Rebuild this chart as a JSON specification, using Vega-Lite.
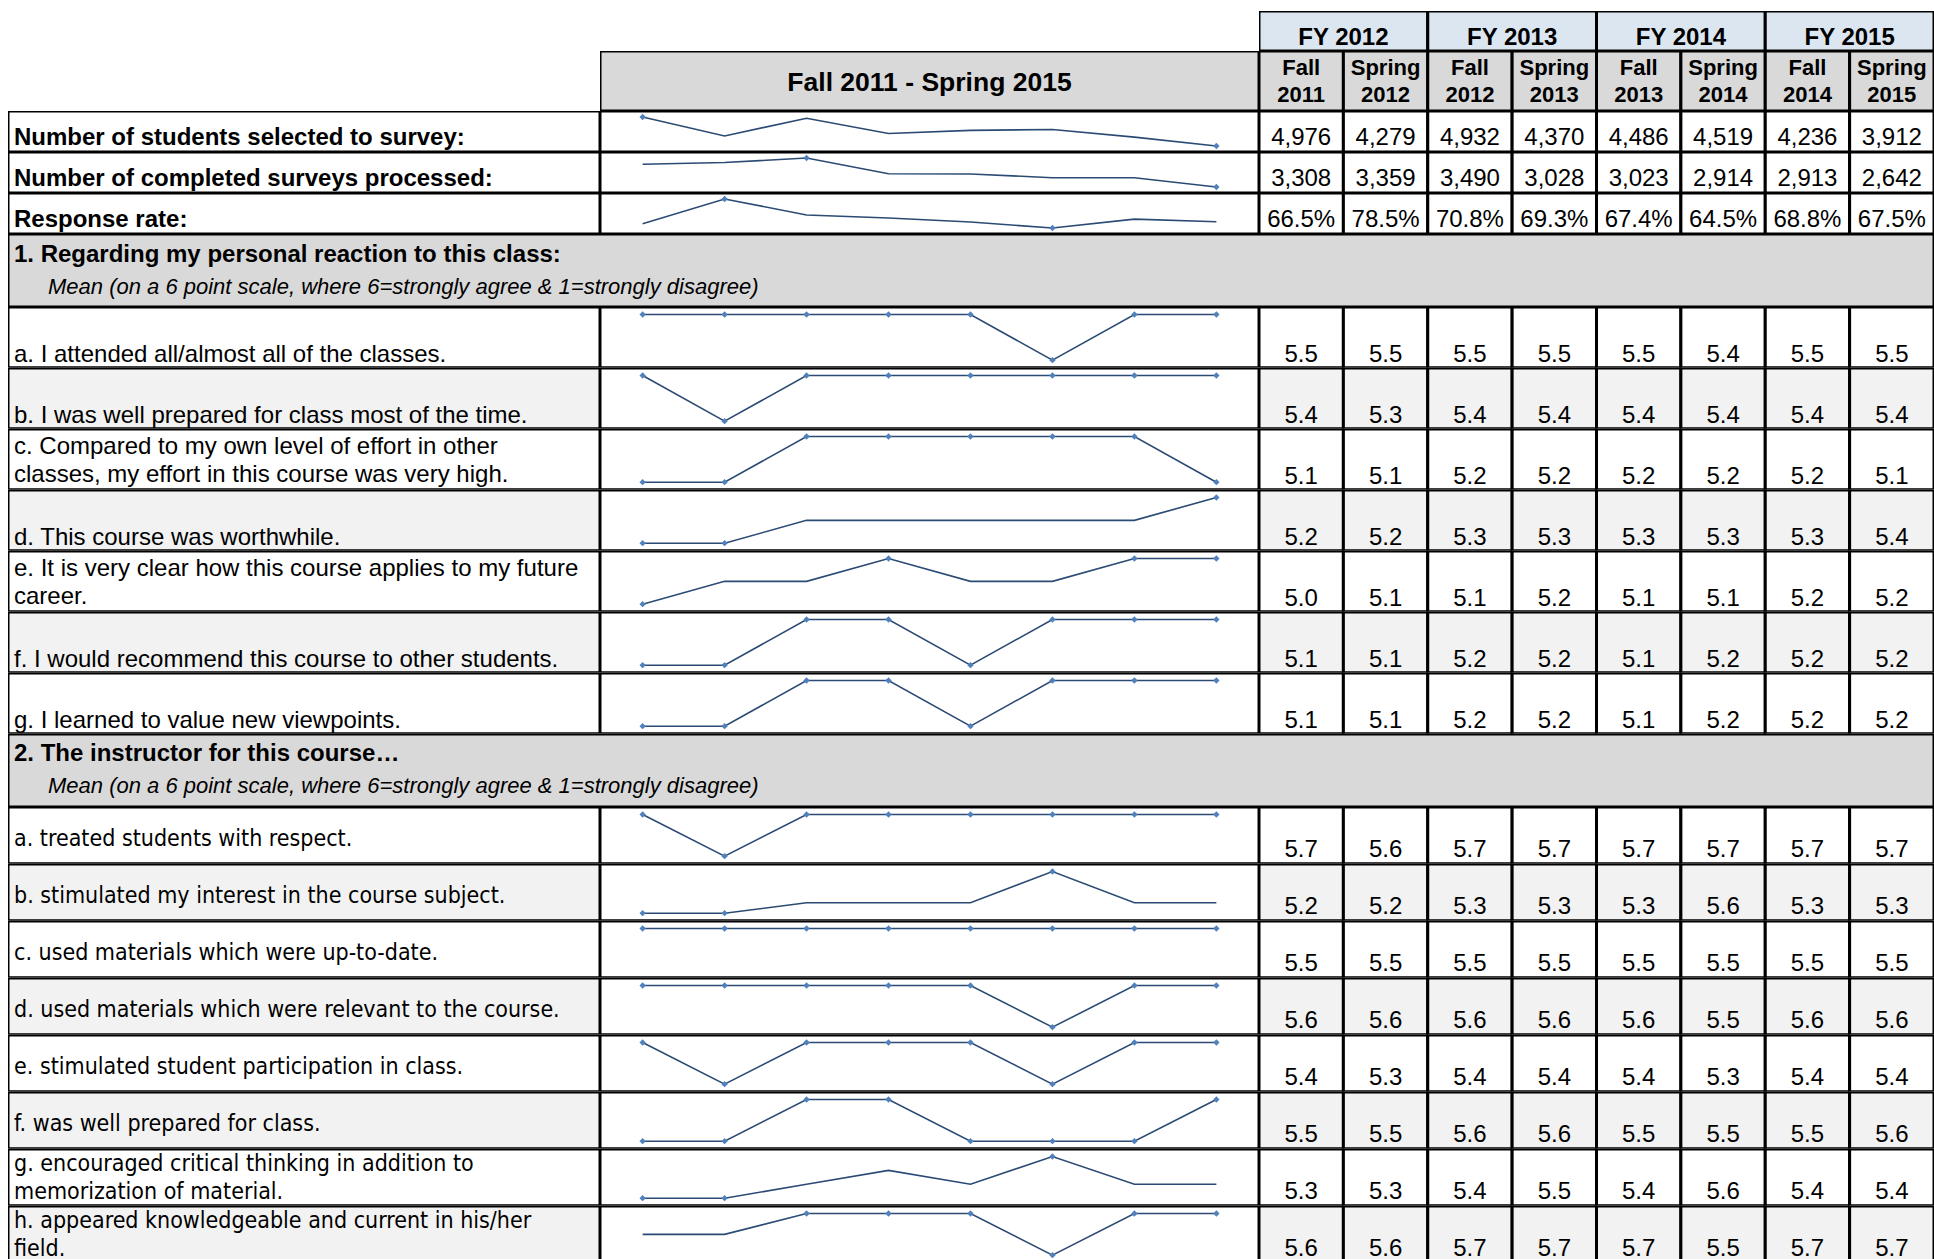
{
  "$schema": "https://vega.github.io/schema/vega-lite/v6.json",
  "background": "white",
  "padding": {"left": 8, "top": 11, "right": 0, "bottom": 0},
  "spacing": 0,
  "config": {
    "view": {"stroke": null},
    "concat": {"spacing": 0},
    "facet": {"spacing": 0},
    "font": "Liberation Sans, Arial, Helvetica, sans-serif",
    "text": {"font": "Liberation Sans, Arial, Helvetica, sans-serif", "fontSize": 24, "color": "black", "baseline": "alphabetic"}
  },
  "datasets": {
    "per": [
      {"fy": "FY 2012", "p": "Fall 2011"}, {"fy": "FY 2012", "p": "Spring 2012"},
      {"fy": "FY 2013", "p": "Fall 2012"}, {"fy": "FY 2013", "p": "Spring 2013"},
      {"fy": "FY 2014", "p": "Fall 2013"}, {"fy": "FY 2014", "p": "Spring 2014"},
      {"fy": "FY 2015", "p": "Fall 2014"}, {"fy": "FY 2015", "p": "Spring 2015"}
    ],
    "statLab": [
      {"k": 1, "label": "Number of students selected to survey:"},
      {"k": 2, "label": "Number of completed surveys processed:"},
      {"k": 3, "label": "Response rate:"}
    ],
    "stat": [
      {"k": 1, "p": "Fall 2011", "v": 4976}, {"k": 1, "p": "Spring 2012", "v": 4279}, {"k": 1, "p": "Fall 2012", "v": 4932}, {"k": 1, "p": "Spring 2013", "v": 4370},
      {"k": 1, "p": "Fall 2013", "v": 4486}, {"k": 1, "p": "Spring 2014", "v": 4519}, {"k": 1, "p": "Fall 2014", "v": 4236}, {"k": 1, "p": "Spring 2015", "v": 3912},
      {"k": 2, "p": "Fall 2011", "v": 3308}, {"k": 2, "p": "Spring 2012", "v": 3359}, {"k": 2, "p": "Fall 2012", "v": 3490}, {"k": 2, "p": "Spring 2013", "v": 3028},
      {"k": 2, "p": "Fall 2013", "v": 3023}, {"k": 2, "p": "Spring 2014", "v": 2914}, {"k": 2, "p": "Fall 2014", "v": 2913}, {"k": 2, "p": "Spring 2015", "v": 2642},
      {"k": 3, "p": "Fall 2011", "v": 0.665}, {"k": 3, "p": "Spring 2012", "v": 0.785}, {"k": 3, "p": "Fall 2012", "v": 0.708}, {"k": 3, "p": "Spring 2013", "v": 0.693},
      {"k": 3, "p": "Fall 2013", "v": 0.674}, {"k": 3, "p": "Spring 2014", "v": 0.645}, {"k": 3, "p": "Fall 2014", "v": 0.688}, {"k": 3, "p": "Spring 2015", "v": 0.675}
    ],
    "s1Lab": [
      {"k": 1, "label": "a. I attended all/almost all of the classes."},
      {"k": 2, "label": "b. I was well prepared for class most of the time."},
      {"k": 3, "label": "c. Compared to my own level of effort in other\nclasses, my effort in this course was very high."},
      {"k": 4, "label": "d. This course was worthwhile."},
      {"k": 5, "label": "e. It is very clear how this course applies to my future\ncareer."},
      {"k": 6, "label": "f.  I would recommend this course to other students."},
      {"k": 7, "label": "g. I learned to value new viewpoints."}
    ],
    "s1": [
      {"k": 1, "p": "Fall 2011", "v": 5.5}, {"k": 1, "p": "Spring 2012", "v": 5.5}, {"k": 1, "p": "Fall 2012", "v": 5.5}, {"k": 1, "p": "Spring 2013", "v": 5.5},
      {"k": 1, "p": "Fall 2013", "v": 5.5}, {"k": 1, "p": "Spring 2014", "v": 5.4}, {"k": 1, "p": "Fall 2014", "v": 5.5}, {"k": 1, "p": "Spring 2015", "v": 5.5},
      {"k": 2, "p": "Fall 2011", "v": 5.4}, {"k": 2, "p": "Spring 2012", "v": 5.3}, {"k": 2, "p": "Fall 2012", "v": 5.4}, {"k": 2, "p": "Spring 2013", "v": 5.4},
      {"k": 2, "p": "Fall 2013", "v": 5.4}, {"k": 2, "p": "Spring 2014", "v": 5.4}, {"k": 2, "p": "Fall 2014", "v": 5.4}, {"k": 2, "p": "Spring 2015", "v": 5.4},
      {"k": 3, "p": "Fall 2011", "v": 5.1}, {"k": 3, "p": "Spring 2012", "v": 5.1}, {"k": 3, "p": "Fall 2012", "v": 5.2}, {"k": 3, "p": "Spring 2013", "v": 5.2},
      {"k": 3, "p": "Fall 2013", "v": 5.2}, {"k": 3, "p": "Spring 2014", "v": 5.2}, {"k": 3, "p": "Fall 2014", "v": 5.2}, {"k": 3, "p": "Spring 2015", "v": 5.1},
      {"k": 4, "p": "Fall 2011", "v": 5.2}, {"k": 4, "p": "Spring 2012", "v": 5.2}, {"k": 4, "p": "Fall 2012", "v": 5.3}, {"k": 4, "p": "Spring 2013", "v": 5.3},
      {"k": 4, "p": "Fall 2013", "v": 5.3}, {"k": 4, "p": "Spring 2014", "v": 5.3}, {"k": 4, "p": "Fall 2014", "v": 5.3}, {"k": 4, "p": "Spring 2015", "v": 5.4},
      {"k": 5, "p": "Fall 2011", "v": 5.0}, {"k": 5, "p": "Spring 2012", "v": 5.1}, {"k": 5, "p": "Fall 2012", "v": 5.1}, {"k": 5, "p": "Spring 2013", "v": 5.2},
      {"k": 5, "p": "Fall 2013", "v": 5.1}, {"k": 5, "p": "Spring 2014", "v": 5.1}, {"k": 5, "p": "Fall 2014", "v": 5.2}, {"k": 5, "p": "Spring 2015", "v": 5.2},
      {"k": 6, "p": "Fall 2011", "v": 5.1}, {"k": 6, "p": "Spring 2012", "v": 5.1}, {"k": 6, "p": "Fall 2012", "v": 5.2}, {"k": 6, "p": "Spring 2013", "v": 5.2},
      {"k": 6, "p": "Fall 2013", "v": 5.1}, {"k": 6, "p": "Spring 2014", "v": 5.2}, {"k": 6, "p": "Fall 2014", "v": 5.2}, {"k": 6, "p": "Spring 2015", "v": 5.2},
      {"k": 7, "p": "Fall 2011", "v": 5.1}, {"k": 7, "p": "Spring 2012", "v": 5.1}, {"k": 7, "p": "Fall 2012", "v": 5.2}, {"k": 7, "p": "Spring 2013", "v": 5.2},
      {"k": 7, "p": "Fall 2013", "v": 5.1}, {"k": 7, "p": "Spring 2014", "v": 5.2}, {"k": 7, "p": "Fall 2014", "v": 5.2}, {"k": 7, "p": "Spring 2015", "v": 5.2}
    ],
    "s2Lab": [
      {"k": 1, "label": "a. treated students with respect."},
      {"k": 2, "label": "b. stimulated my interest in the course subject."},
      {"k": 3, "label": "c. used materials which were up-to-date."},
      {"k": 4, "label": "d. used materials which were relevant to the course."},
      {"k": 5, "label": "e. stimulated student participation in class."},
      {"k": 6, "label": "f. was well prepared for class."},
      {"k": 7, "label": "g. encouraged critical thinking in addition to\nmemorization of material."},
      {"k": 8, "label": "h. appeared knowledgeable and current in his/her\nfield."}
    ],
    "s2": [
      {"k": 1, "p": "Fall 2011", "v": 5.7}, {"k": 1, "p": "Spring 2012", "v": 5.6}, {"k": 1, "p": "Fall 2012", "v": 5.7}, {"k": 1, "p": "Spring 2013", "v": 5.7},
      {"k": 1, "p": "Fall 2013", "v": 5.7}, {"k": 1, "p": "Spring 2014", "v": 5.7}, {"k": 1, "p": "Fall 2014", "v": 5.7}, {"k": 1, "p": "Spring 2015", "v": 5.7},
      {"k": 2, "p": "Fall 2011", "v": 5.2}, {"k": 2, "p": "Spring 2012", "v": 5.2}, {"k": 2, "p": "Fall 2012", "v": 5.3}, {"k": 2, "p": "Spring 2013", "v": 5.3},
      {"k": 2, "p": "Fall 2013", "v": 5.3}, {"k": 2, "p": "Spring 2014", "v": 5.6}, {"k": 2, "p": "Fall 2014", "v": 5.3}, {"k": 2, "p": "Spring 2015", "v": 5.3},
      {"k": 3, "p": "Fall 2011", "v": 5.5}, {"k": 3, "p": "Spring 2012", "v": 5.5}, {"k": 3, "p": "Fall 2012", "v": 5.5}, {"k": 3, "p": "Spring 2013", "v": 5.5},
      {"k": 3, "p": "Fall 2013", "v": 5.5}, {"k": 3, "p": "Spring 2014", "v": 5.5}, {"k": 3, "p": "Fall 2014", "v": 5.5}, {"k": 3, "p": "Spring 2015", "v": 5.5},
      {"k": 4, "p": "Fall 2011", "v": 5.6}, {"k": 4, "p": "Spring 2012", "v": 5.6}, {"k": 4, "p": "Fall 2012", "v": 5.6}, {"k": 4, "p": "Spring 2013", "v": 5.6},
      {"k": 4, "p": "Fall 2013", "v": 5.6}, {"k": 4, "p": "Spring 2014", "v": 5.5}, {"k": 4, "p": "Fall 2014", "v": 5.6}, {"k": 4, "p": "Spring 2015", "v": 5.6},
      {"k": 5, "p": "Fall 2011", "v": 5.4}, {"k": 5, "p": "Spring 2012", "v": 5.3}, {"k": 5, "p": "Fall 2012", "v": 5.4}, {"k": 5, "p": "Spring 2013", "v": 5.4},
      {"k": 5, "p": "Fall 2013", "v": 5.4}, {"k": 5, "p": "Spring 2014", "v": 5.3}, {"k": 5, "p": "Fall 2014", "v": 5.4}, {"k": 5, "p": "Spring 2015", "v": 5.4},
      {"k": 6, "p": "Fall 2011", "v": 5.5}, {"k": 6, "p": "Spring 2012", "v": 5.5}, {"k": 6, "p": "Fall 2012", "v": 5.6}, {"k": 6, "p": "Spring 2013", "v": 5.6},
      {"k": 6, "p": "Fall 2013", "v": 5.5}, {"k": 6, "p": "Spring 2014", "v": 5.5}, {"k": 6, "p": "Fall 2014", "v": 5.5}, {"k": 6, "p": "Spring 2015", "v": 5.6},
      {"k": 7, "p": "Fall 2011", "v": 5.3}, {"k": 7, "p": "Spring 2012", "v": 5.3}, {"k": 7, "p": "Fall 2012", "v": 5.4}, {"k": 7, "p": "Spring 2013", "v": 5.5},
      {"k": 7, "p": "Fall 2013", "v": 5.4}, {"k": 7, "p": "Spring 2014", "v": 5.6}, {"k": 7, "p": "Fall 2014", "v": 5.4}, {"k": 7, "p": "Spring 2015", "v": 5.4},
      {"k": 8, "p": "Fall 2011", "v": 5.6}, {"k": 8, "p": "Spring 2012", "v": 5.6}, {"k": 8, "p": "Fall 2012", "v": 5.7}, {"k": 8, "p": "Spring 2013", "v": 5.7},
      {"k": 8, "p": "Fall 2013", "v": 5.7}, {"k": 8, "p": "Spring 2014", "v": 5.5}, {"k": 8, "p": "Fall 2014", "v": 5.7}, {"k": 8, "p": "Spring 2015", "v": 5.7}
    ]
  },
  "vconcat": [
    {
      "hconcat": [
        {"width": 592, "height": 100, "data": {"values": [{"t": ""}]}, "mark": {"type": "text", "clip": true}, "encoding": {"text": {"field": "t"}}},
        {
          "vconcat": [
            {"width": 659, "height": 40, "data": {"values": [{"t": ""}]}, "mark": {"type": "text", "clip": true}, "encoding": {"text": {"field": "t"}}},
            {
              "width": 659, "height": 60,
              "data": {"values": [{"t": "Fall 2011 - Spring 2015"}]},
              "layer": [
                {"mark": {"type": "rect", "clip": true, "fill": "#D9D9D9", "stroke": "black", "strokeWidth": 3}, "encoding": {}},
                {"mark": {"type": "text", "clip": true, "baseline": "alphabetic", "fontWeight": "bold", "fontSize": 26.5, "dy": 10}, "encoding": {"text": {"field": "t"}}}
              ]
            }
          ]
        },
        {
          "vconcat": [
            {
              "width": 675, "height": 40,
              "data": {"name": "per"},
              "transform": [{"aggregate": [{"op": "count", "as": "n"}], "groupby": ["fy"]}],
              "encoding": {"x": {"field": "fy", "type": "nominal", "sort": ["FY 2012", "FY 2013", "FY 2014", "FY 2015"], "scale": {"type": "band", "paddingInner": 0, "paddingOuter": 0}, "axis": null}},
              "layer": [
                {"mark": {"type": "rect", "clip": true, "fill": "#DCE6F1", "stroke": "black", "strokeWidth": 3}},
                {"mark": {"type": "text", "clip": true, "baseline": "alphabetic", "fontWeight": "bold", "dy": 13.5}, "encoding": {"text": {"field": "fy"}}}
              ]
            },
            {
              "width": 675, "height": 60,
              "data": {"name": "per"},
              "encoding": {"x": {"field": "p", "type": "nominal", "sort": ["Fall 2011", "Spring 2012", "Fall 2012", "Spring 2013", "Fall 2013", "Spring 2014", "Fall 2014", "Spring 2015"], "scale": {"type": "band", "paddingInner": 0, "paddingOuter": 0}, "axis": null}},
              "layer": [
                {"mark": {"type": "rect", "clip": true, "fill": "#D9D9D9", "stroke": "black", "strokeWidth": 3}},
                {"mark": {"type": "text", "clip": true, "baseline": "alphabetic", "fontWeight": "bold", "fontSize": 22, "lineBreak": " ", "lineHeight": 27, "dy": -6}, "encoding": {"text": {"field": "p"}}}
              ]
            }
          ]
        }
      ]
    },
    {
      "hconcat": [
        {
          "data": {"name": "statLab"},
          "facet": {"row": {"field": "k", "type": "ordinal", "header": null}},
          "spacing": 0,
          "spec": {
            "width": 592, "height": 41,
            "layer": [
              {"mark": {"type": "rect", "clip": true, "fill": "white", "stroke": "black", "strokeWidth": 3}, "encoding": {}},
              {"mark": {"type": "text", "clip": true, "baseline": "alphabetic", "align": "left", "fontWeight": "bold", "dx": 6, "dy": 13.5, "limit": 580},
               "encoding": {"x": {"datum": 0, "type": "quantitative", "scale": {"domain": [0, 1]}, "axis": null}, "text": {"field": "label"}}}
            ]
          }
        },
        {
          "data": {"name": "stat"},
          "transform": [{"joinaggregate": [{"op": "max", "field": "v", "as": "mx"}, {"op": "min", "field": "v", "as": "mn"}], "groupby": ["k"]}],
          "facet": {"row": {"field": "k", "type": "ordinal", "header": null}},
          "spacing": 0,
          "resolve": {"scale": {"y": "independent"}},
          "spec": {
            "width": 659, "height": 41,
            "encoding": {
              "x": {"field": "p", "type": "nominal", "sort": ["Fall 2011", "Spring 2012", "Fall 2012", "Spring 2013", "Fall 2013", "Spring 2014", "Fall 2014", "Spring 2015"], "scale": {"type": "point", "padding": 0.52}, "axis": null},
              "y": {"field": "v", "type": "quantitative", "scale": {"zero": false, "nice": false, "padding": 6}, "axis": null}
            },
            "layer": [
              {"transform": [{"filter": "datum.p == 'Fall 2011'"}], "mark": {"type": "rect", "clip": true, "fill": "white", "stroke": "black", "strokeWidth": 3}, "encoding": {"x": null, "y": null}},
              {"mark": {"type": "line", "clip": true, "color": "#2B4B74", "strokeWidth": 1.6}, "encoding": {}},
              {"transform": [{"filter": "datum.v == datum.mx || datum.v == datum.mn"}], "mark": {"type": "point", "clip": true, "shape": "diamond", "filled": true, "color": "#4F81BD", "size": 40, "opacity": 1}, "encoding": {}}
            ]
          }
        },
        {
          "data": {"name": "stat"},
          "facet": {"row": {"field": "k", "type": "ordinal", "header": null}},
          "spacing": 0,
          "spec": {
            "width": 675, "height": 41,
            "encoding": {"x": {"field": "p", "type": "nominal", "sort": ["Fall 2011", "Spring 2012", "Fall 2012", "Spring 2013", "Fall 2013", "Spring 2014", "Fall 2014", "Spring 2015"], "scale": {"type": "band", "paddingInner": 0, "paddingOuter": 0}, "axis": null}},
            "layer": [
              {"mark": {"type": "rect", "clip": true, "fill": "white", "stroke": "black", "strokeWidth": 3}},
              {"transform": [{"filter": "datum.k < 3"}], "mark": {"type": "text", "clip": true, "baseline": "alphabetic", "dy": 13.5}, "encoding": {"text": {"field": "v", "type": "quantitative", "format": ","}}},
              {"transform": [{"filter": "datum.k == 3"}], "mark": {"type": "text", "clip": true, "baseline": "alphabetic", "dy": 13.5}, "encoding": {"text": {"field": "v", "type": "quantitative", "format": ".1%"}}}
            ]
          }
        }
      ]
    },
    {
      "width": 1926, "height": 73,
      "data": {"values": [{"t": "1. Regarding my personal reaction to this class:", "s": "Mean (on a 6 point scale, where 6=strongly agree & 1=strongly disagree)"}]},
      "encoding": {"x": {"datum": 0, "type": "quantitative", "scale": {"domain": [0, 1]}, "axis": null}},
      "layer": [
        {"mark": {"type": "rect", "clip": true, "fill": "#D9D9D9", "stroke": "black", "strokeWidth": 3}, "encoding": {"x": null}},
        {"mark": {"type": "text", "clip": true, "baseline": "alphabetic", "align": "left", "fontWeight": "bold", "dx": 6, "dy": -8.5}, "encoding": {"text": {"field": "t"}}},
        {"mark": {"type": "text", "clip": true, "baseline": "alphabetic", "align": "left", "fontStyle": "italic", "fontSize": 22, "dx": 40, "dy": 23.5}, "encoding": {"text": {"field": "s"}}}
      ]
    },
    {
      "hconcat": [
        {
          "data": {"name": "s1Lab"},
          "facet": {"row": {"field": "k", "type": "ordinal", "header": null}},
          "spacing": 0,
          "spec": {
            "width": 592, "height": 60.7,
            "encoding": {"x": {"datum": 0, "type": "quantitative", "scale": {"domain": [0, 1]}, "axis": null}},
            "layer": [
              {"mark": {"type": "rect", "clip": true, "stroke": "black", "strokeWidth": 3},
               "encoding": {"x": null, "fill": {"condition": {"test": "datum.k % 2 == 0", "value": "#F2F2F2"}, "value": "white"}}},
              {"transform": [{"filter": "indexof(datum.label, '\\n') < 0"}],
               "mark": {"type": "text", "clip": true, "baseline": "alphabetic", "align": "left", "dx": 6, "dy": 25, "limit": 580},
               "encoding": {"text": {"field": "label"}}},
              {"transform": [{"filter": "indexof(datum.label, '\\n') >= 0"}],
               "mark": {"type": "text", "clip": true, "baseline": "alphabetic", "align": "left", "lineBreak": "\n", "lineHeight": 27.5, "dx": 6, "dy": -5, "limit": 580},
               "encoding": {"text": {"field": "label"}}}
            ]
          }
        },
        {
          "data": {"name": "s1"},
          "transform": [{"joinaggregate": [{"op": "max", "field": "v", "as": "mx"}, {"op": "min", "field": "v", "as": "mn"}], "groupby": ["k"]}],
          "facet": {"row": {"field": "k", "type": "ordinal", "header": null}},
          "spacing": 0,
          "resolve": {"scale": {"y": "independent"}},
          "spec": {
            "width": 659, "height": 60.7,
            "encoding": {
              "x": {"field": "p", "type": "nominal", "sort": ["Fall 2011", "Spring 2012", "Fall 2012", "Spring 2013", "Fall 2013", "Spring 2014", "Fall 2014", "Spring 2015"], "scale": {"type": "point", "padding": 0.52}, "axis": null},
              "y": {"field": "v", "type": "quantitative", "scale": {"zero": false, "nice": false, "padding": 7.5}, "axis": null}
            },
            "layer": [
              {"transform": [{"filter": "datum.p == 'Fall 2011'"}], "mark": {"type": "rect", "clip": true, "fill": "white", "stroke": "black", "strokeWidth": 3}, "encoding": {"x": null, "y": null}},
              {"mark": {"type": "line", "clip": true, "color": "#2B4B74", "strokeWidth": 1.6}, "encoding": {}},
              {"transform": [{"filter": "datum.v == datum.mx || datum.v == datum.mn"}], "mark": {"type": "point", "clip": true, "shape": "diamond", "filled": true, "color": "#4F81BD", "size": 40, "opacity": 1}, "encoding": {}}
            ]
          }
        },
        {
          "data": {"name": "s1"},
          "facet": {"row": {"field": "k", "type": "ordinal", "header": null}},
          "spacing": 0,
          "spec": {
            "width": 675, "height": 60.7,
            "encoding": {"x": {"field": "p", "type": "nominal", "sort": ["Fall 2011", "Spring 2012", "Fall 2012", "Spring 2013", "Fall 2013", "Spring 2014", "Fall 2014", "Spring 2015"], "scale": {"type": "band", "paddingInner": 0, "paddingOuter": 0}, "axis": null}},
            "layer": [
              {"mark": {"type": "rect", "clip": true, "stroke": "black", "strokeWidth": 3},
               "encoding": {"fill": {"condition": {"test": "datum.k % 2 == 0", "value": "#F2F2F2"}, "value": "white"}}},
              {"mark": {"type": "text", "clip": true, "baseline": "alphabetic", "dy": 24.3}, "encoding": {"text": {"field": "v", "type": "quantitative", "format": ".1f"}}}
            ]
          }
        }
      ]
    },
    {
      "width": 1926, "height": 73,
      "data": {"values": [{"t": "2. The instructor for this course…", "s": "Mean (on a 6 point scale, where 6=strongly agree & 1=strongly disagree)"}]},
      "encoding": {"x": {"datum": 0, "type": "quantitative", "scale": {"domain": [0, 1]}, "axis": null}},
      "layer": [
        {"mark": {"type": "rect", "clip": true, "fill": "#D9D9D9", "stroke": "black", "strokeWidth": 3}, "encoding": {"x": null}},
        {"mark": {"type": "text", "clip": true, "baseline": "alphabetic", "align": "left", "fontWeight": "bold", "dx": 6, "dy": -9.5}, "encoding": {"text": {"field": "t"}}},
        {"mark": {"type": "text", "clip": true, "baseline": "alphabetic", "align": "left", "fontStyle": "italic", "fontSize": 22, "dx": 40, "dy": 22.5}, "encoding": {"text": {"field": "s"}}}
      ]
    },
    {
      "hconcat": [
        {
          "data": {"name": "s2Lab"},
          "facet": {"row": {"field": "k", "type": "ordinal", "header": null}},
          "spacing": 0,
          "spec": {
            "width": 592, "height": 56.7,
            "encoding": {"x": {"datum": 0, "type": "quantitative", "scale": {"domain": [0, 1]}, "axis": null}},
            "layer": [
              {"mark": {"type": "rect", "clip": true, "stroke": "black", "strokeWidth": 3},
               "encoding": {"x": null, "fill": {"condition": {"test": "datum.k % 2 == 0", "value": "#F2F2F2"}, "value": "white"}}},
              {"transform": [{"filter": "indexof(datum.label, '\\n') < 0"}],
               "mark": {"type": "text", "clip": true, "baseline": "alphabetic", "align": "left", "font": "Liberation Sans Narrow, Arial Narrow, DejaVu Sans Condensed, sans-serif", "fontSize": 23, "dx": 6, "dy": 10.5, "limit": 580},
               "encoding": {"text": {"field": "label"}}},
              {"transform": [{"filter": "indexof(datum.label, '\\n') >= 0"}],
               "mark": {"type": "text", "clip": true, "baseline": "alphabetic", "align": "left", "font": "Liberation Sans Narrow, Arial Narrow, DejaVu Sans Condensed, sans-serif", "fontSize": 23, "lineBreak": "\n", "lineHeight": 28, "dx": 6, "dy": -6.5, "limit": 580},
               "encoding": {"text": {"field": "label"}}}
            ]
          }
        },
        {
          "data": {"name": "s2"},
          "transform": [{"joinaggregate": [{"op": "max", "field": "v", "as": "mx"}, {"op": "min", "field": "v", "as": "mn"}, {"op": "distinct", "field": "v", "as": "nd"}], "groupby": ["k"]}],
          "facet": {"row": {"field": "k", "type": "ordinal", "header": null}},
          "spacing": 0,
          "resolve": {"scale": {"y": "independent"}},
          "spec": {
            "width": 659, "height": 56.7,
            "encoding": {
              "x": {"field": "p", "type": "nominal", "sort": ["Fall 2011", "Spring 2012", "Fall 2012", "Spring 2013", "Fall 2013", "Spring 2014", "Fall 2014", "Spring 2015"], "scale": {"type": "point", "padding": 0.52}, "axis": null},
              "y": {"field": "v", "type": "quantitative", "scale": {"zero": false, "nice": false, "padding": 7.5}, "axis": null}
            },
            "layer": [
              {"transform": [{"filter": "datum.p == 'Fall 2011'"}], "mark": {"type": "rect", "clip": true, "fill": "white", "stroke": "black", "strokeWidth": 3}, "encoding": {"x": null, "y": null}},
              {"transform": [{"filter": "datum.nd == 1 && datum.p == 'Fall 2011'"}], "mark": {"type": "point", "clip": true, "opacity": 0}, "encoding": {"y": {"field": "nd", "type": "quantitative"}}},
              {"mark": {"type": "line", "clip": true, "color": "#2B4B74", "strokeWidth": 1.6}, "encoding": {}},
              {"transform": [{"filter": "datum.v == datum.mx || datum.v == datum.mn"}], "mark": {"type": "point", "clip": true, "shape": "diamond", "filled": true, "color": "#4F81BD", "size": 40, "opacity": 1}, "encoding": {}}
            ]
          }
        },
        {
          "data": {"name": "s2"},
          "facet": {"row": {"field": "k", "type": "ordinal", "header": null}},
          "spacing": 0,
          "spec": {
            "width": 675, "height": 56.7,
            "encoding": {"x": {"field": "p", "type": "nominal", "sort": ["Fall 2011", "Spring 2012", "Fall 2012", "Spring 2013", "Fall 2013", "Spring 2014", "Fall 2014", "Spring 2015"], "scale": {"type": "band", "paddingInner": 0, "paddingOuter": 0}, "axis": null}},
            "layer": [
              {"mark": {"type": "rect", "clip": true, "stroke": "black", "strokeWidth": 3},
               "encoding": {"fill": {"condition": {"test": "datum.k % 2 == 0", "value": "#F2F2F2"}, "value": "white"}}},
              {"mark": {"type": "text", "clip": true, "baseline": "alphabetic", "dy": 22}, "encoding": {"text": {"field": "v", "type": "quantitative", "format": ".1f"}}}
            ]
          }
        }
      ]
    }
  ]
}
